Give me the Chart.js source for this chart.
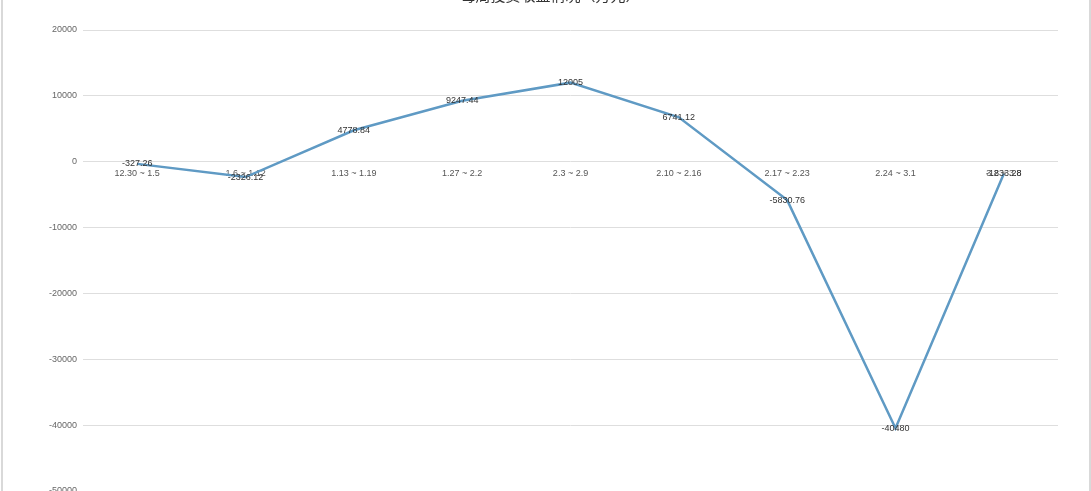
<!DOCTYPE html>
<html>
<head>
<meta charset="utf-8">
<script src="https://cdn.jsdelivr.net/npm/chart.js@4/dist/chart.umd.min.js"></script>
<style>
    html, body { margin: 0; padding: 0; background: #fff; }
    #frame { position: relative; width: 1091px; height: 491px; overflow: hidden; background: #fff; }
    #chart-div { position: absolute; left: 0; top: -21px; width: 1091px; height: 540px; }
    .edge { position: absolute; top: 0; width: 2px; height: 491px; background: #d9d9d9; }
</style>
</head>
<body>
<div id="frame">
    <div id="chart-div"><canvas id="lineChart"></canvas></div>
    <div class="edge" style="left:1px"></div>
    <div class="edge" style="left:1089px"></div>
</div>
<script>
/* ---------------------------- Data --------------------------------------------- */

const chartTitle = '每周投资收益情况（万元）'
const weeks = ['12.30 ~ 1.5', '1.6 ~ 1.12', '1.13 ~ 1.19', '1.27 ~ 2.2', '2.3 ~ 2.9',
    '2.10 ~ 2.16', '2.17 ~ 2.23', '2.24 ~ 3.1', '3.2 ~ 3.8']
const profits = [-327.26, -2326.12, 4778.84, 9247.44, 12005, 6741.12, -5830.76, -40480, -1833.28]
const yTicks = [20000, 10000, 0, -10000, -20000, -30000, -40000, -50000]

/* ---------------------------- Value labels ------------------------------------- */

const valueLabels = {
    id: 'valueLabels',
    afterDatasetsDraw(chart) {
        const ctx = chart.ctx
        const meta = chart.getDatasetMeta(0)
        ctx.save()
        ctx.font = '9px "Liberation Sans", Arial, sans-serif'
        ctx.fillStyle = '#333'
        ctx.textAlign = 'center'
        ctx.textBaseline = 'middle'
        meta.data.forEach((pt, i) => {
            ctx.fillText(String(profits[i]), pt.x, pt.y)
        })
        ctx.restore()
    }
}

/* ---------------------------- Chart --------------------------------------------- */

const config = {
    type: 'line',
    data: {
        labels: weeks,
        datasets: [{
            data: profits,
            borderColor: '#5f9ac4',
            borderWidth: 2.5,
            pointRadius: 0,
            tension: 0,
            fill: false
        }]
    },
    options: {
        responsive: true,
        maintainAspectRatio: false,
        animation: false,
        layout: { padding: { left: 43, right: 33, top: 0, bottom: 28 } },
        plugins: {
            legend: { display: false },
            tooltip: { enabled: false },
            title: {
                display: true,
                text: chartTitle,
                color: '#333',
                font: { family: '"Noto Sans CJK SC", sans-serif', size: 15, weight: 'normal' },
                padding: { top: 7, bottom: 26 }
            }
        },
        scales: {
            x: {
                position: { y: 0 },
                offset: true,
                grid: { display: false, drawTicks: false },
                border: { display: false },
                ticks: {
                    color: '#555',
                    padding: 6,
                    maxRotation: 0,
                    autoSkip: false,
                    font: { family: '"Liberation Sans", Arial, sans-serif', size: 9 }
                }
            },
            y: {
                min: yTicks[yTicks.length - 1],
                max: yTicks[0],
                afterBuildTicks: axis => { axis.ticks = yTicks.map(v => ({ value: v })) },
                grid: { color: '#dedede', drawTicks: false },
                border: { display: false },
                ticks: {
                    color: '#666',
                    padding: 6,
                    callback: v => String(v),
                    font: { family: '"Liberation Sans", Arial, sans-serif', size: 9 }
                }
            }
        }
    },
    plugins: [valueLabels]
}

var lineChart = new Chart(document.getElementById('lineChart'), config)
</script>
</body>
</html>
